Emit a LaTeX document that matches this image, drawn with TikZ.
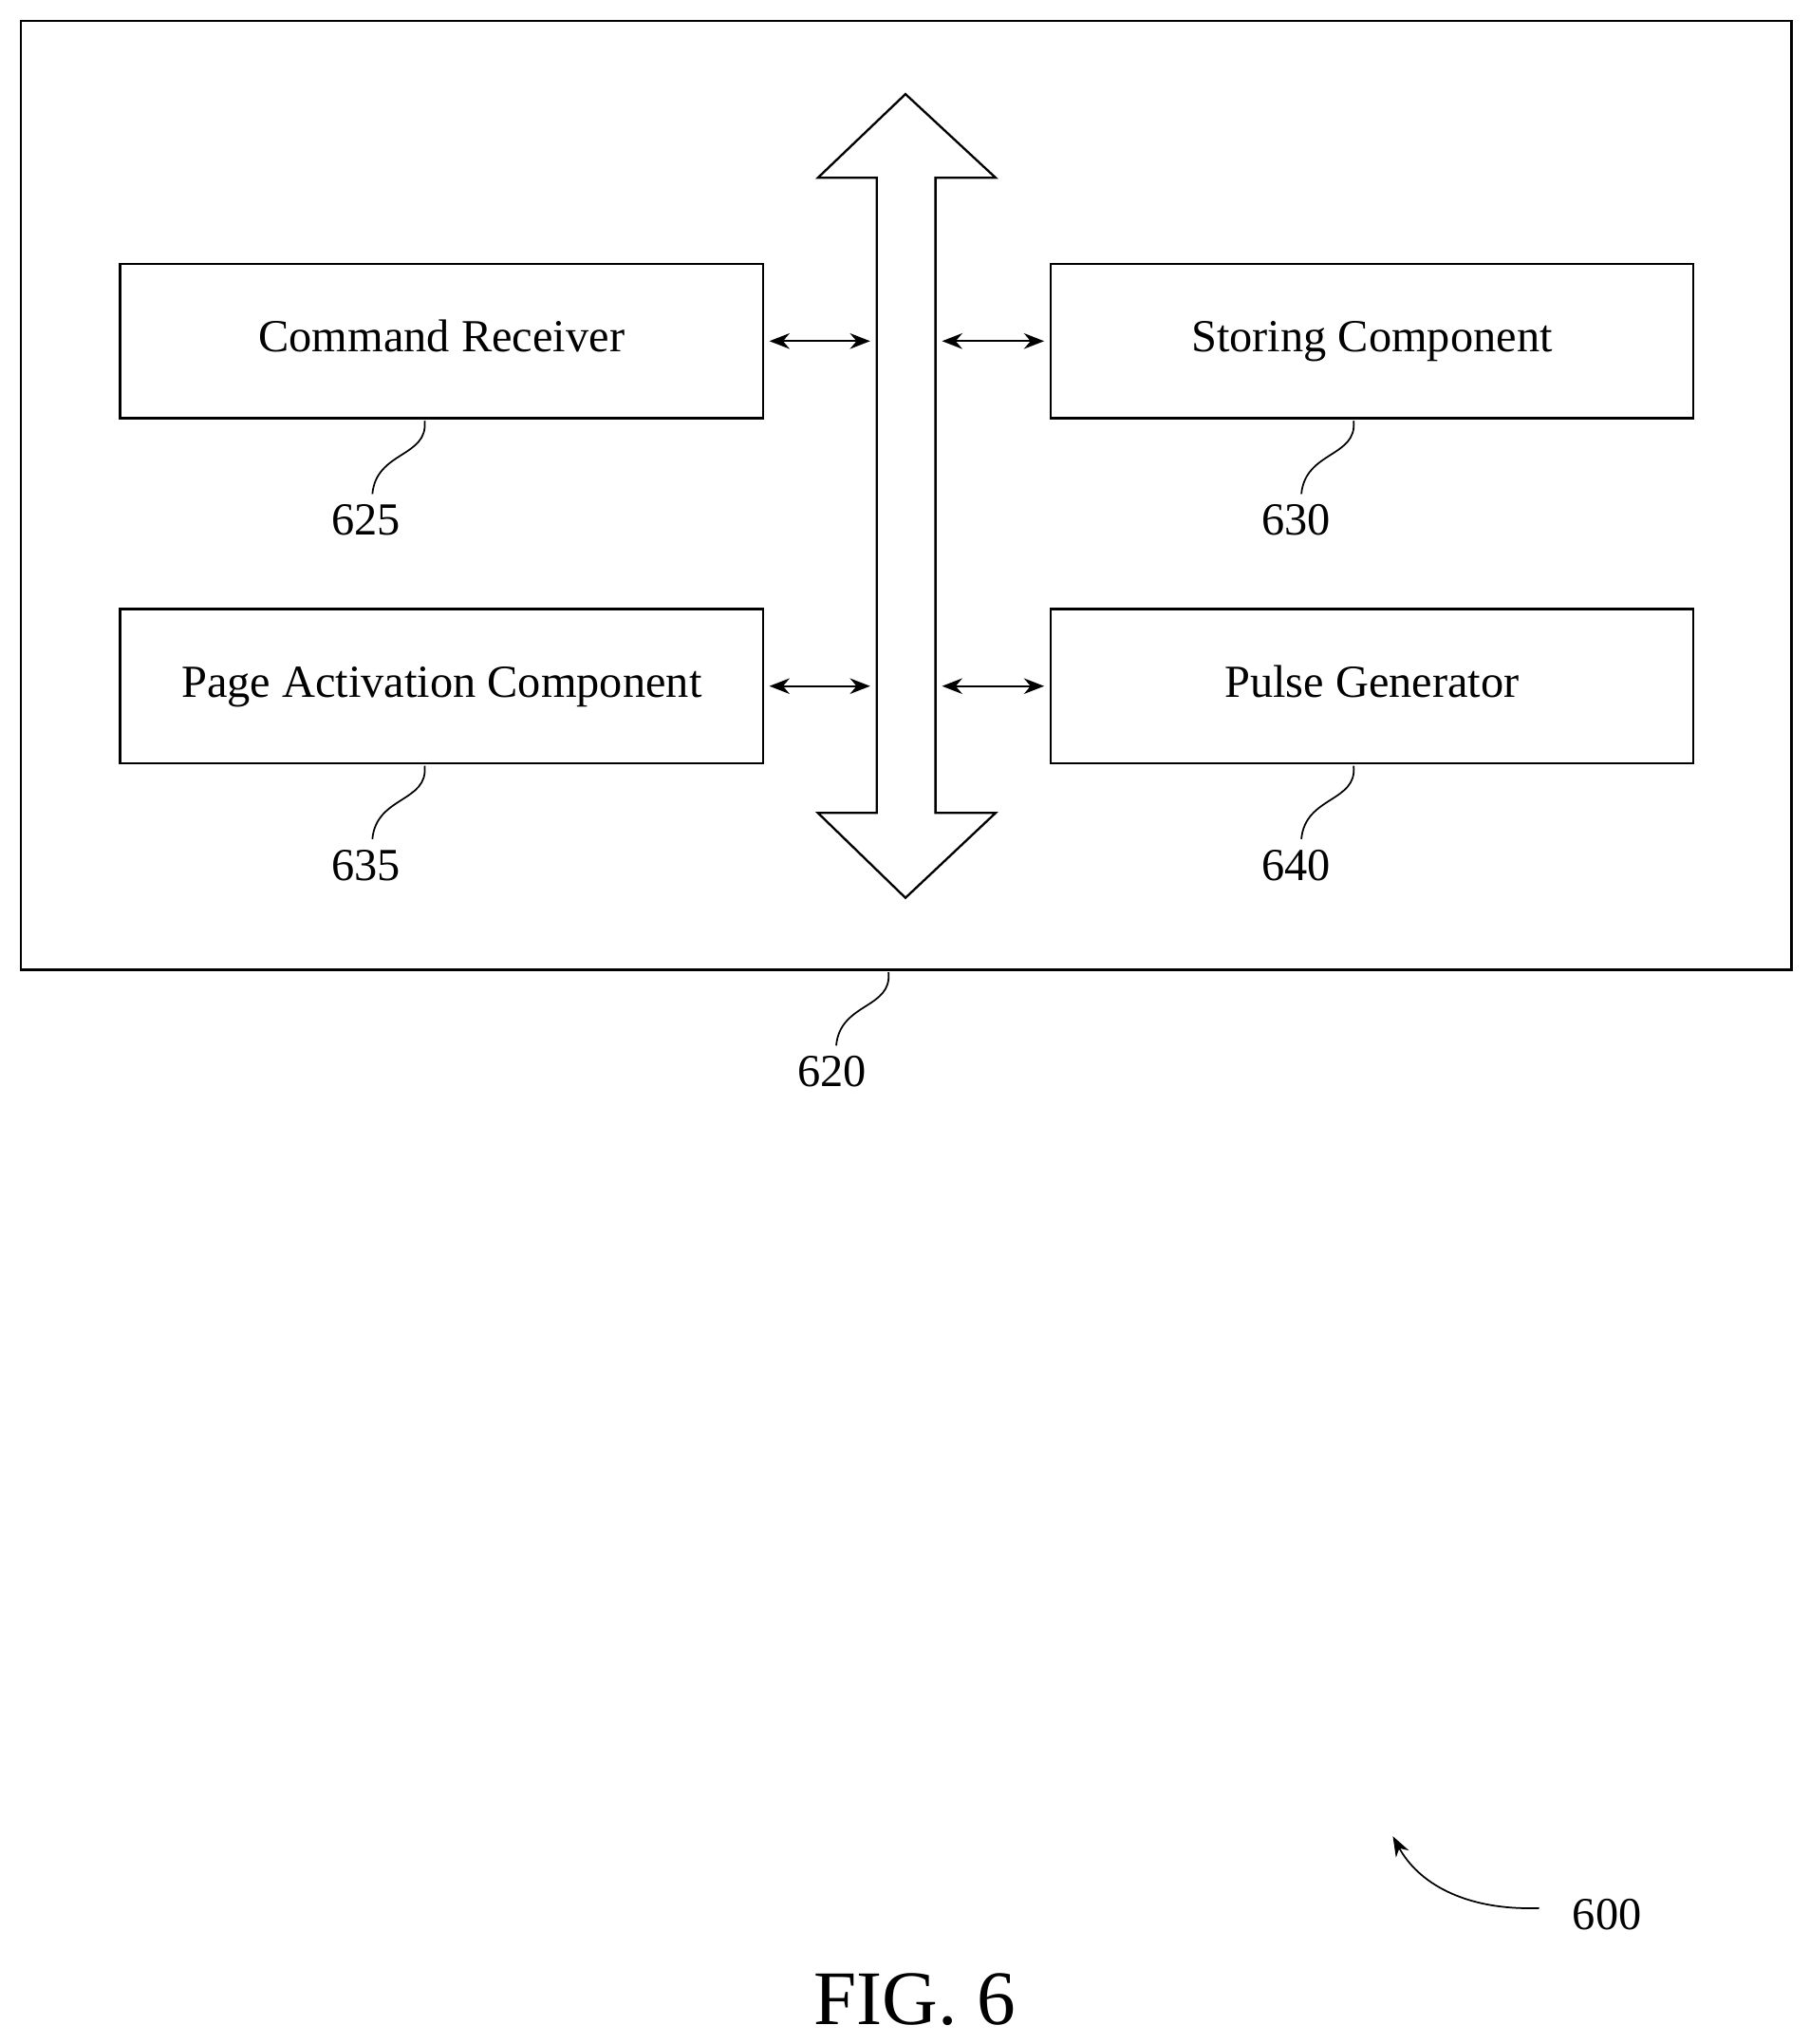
\documentclass[tikz,border=0pt]{standalone}
\usepackage{fontspec}
\setmainfont{Liberation Serif}
\usetikzlibrary{arrows.meta}
\begin{document}
\begin{tikzpicture}[x=0.05cm,y=-0.05cm,
  box/.style={draw,line width=2.4pt},
  lbl/.style={font=\fontsize{50}{54}\selectfont,text height=35pt,text depth=11pt},
  num/.style={font=\fontsize{50}{54}\selectfont},
  lead/.style={line width=1.8pt},
  sarr/.style={line width=2.4pt,{Stealth[length=22pt,width=17pt]}-{Stealth[length=22pt,width=17pt]}}]
\useasboundingbox (0,0) rectangle (1385,1564);
\draw[box] (16,16) rectangle (1371,742);
\node[box,minimum width=492*0.05cm,minimum height=118*0.05cm,lbl] (cr) at (338,261) {Command Receiver};
\node[box,minimum width=492*0.05cm,minimum height=118*0.05cm,lbl] (sc) at (1050,261) {Storing Component};
\node[box,minimum width=492*0.05cm,minimum height=118*0.05cm,lbl] (pa) at (338,525) {Page Activation Component};
\node[box,minimum width=492*0.05cm,minimum height=118*0.05cm,lbl] (pg) at (1050,525) {Pulse Generator};
\draw[box,line join=miter] (693,72) -- (762,136) -- (716,136) -- (716,622) -- (762,622) -- (693,687)
  -- (626,622) -- (671,622) -- (671,136) -- (626,136) -- cycle;
\coordinate (bl1) at (666,261); \coordinate (br1) at (721,261);
\coordinate (bl2) at (666,525); \coordinate (br2) at (721,525);
\draw[sarr] ([xshift=4*0.05cm]cr.east) -- (bl1);
\draw[sarr] (br1) -- ([xshift=-4*0.05cm]sc.west);
\draw[sarr] ([xshift=4*0.05cm]pa.east) -- (bl2);
\draw[sarr] (br2) -- ([xshift=-4*0.05cm]pg.west);
\node[num] (n625) at (280,398) {625};
\node[num] (n630) at (992,398) {630};
\node[num] (n635) at (280,662) {635};
\node[num] (n640) at (992,662) {640};
\node[num] (n620) at (637,820) {620};
\draw[lead] (325,322) .. controls (328,350) and (288,345) .. (285,378);
\draw[lead] (1036,322) .. controls (1039,350) and (999,345) .. (996,378);
\draw[lead] (325,586) .. controls (328,614) and (288,609) .. (285,642);
\draw[lead] (1036,586) .. controls (1039,614) and (999,609) .. (996,642);
\draw[lead] (680,744) .. controls (683,772) and (643,767) .. (640,800);
\node[num] (n600) at (1230,1465) {600};
\coordinate (a600) at (1066,1405);
\draw[lead,-{Stealth[length=22pt,width=16pt]}] (1178,1460) .. controls (1120,1462) and (1085,1440) .. (a600);
\node[font=\fontsize{84}{88}\selectfont] (fig) at (700,1530) {FIG. 6};
\end{tikzpicture}
\end{document}
